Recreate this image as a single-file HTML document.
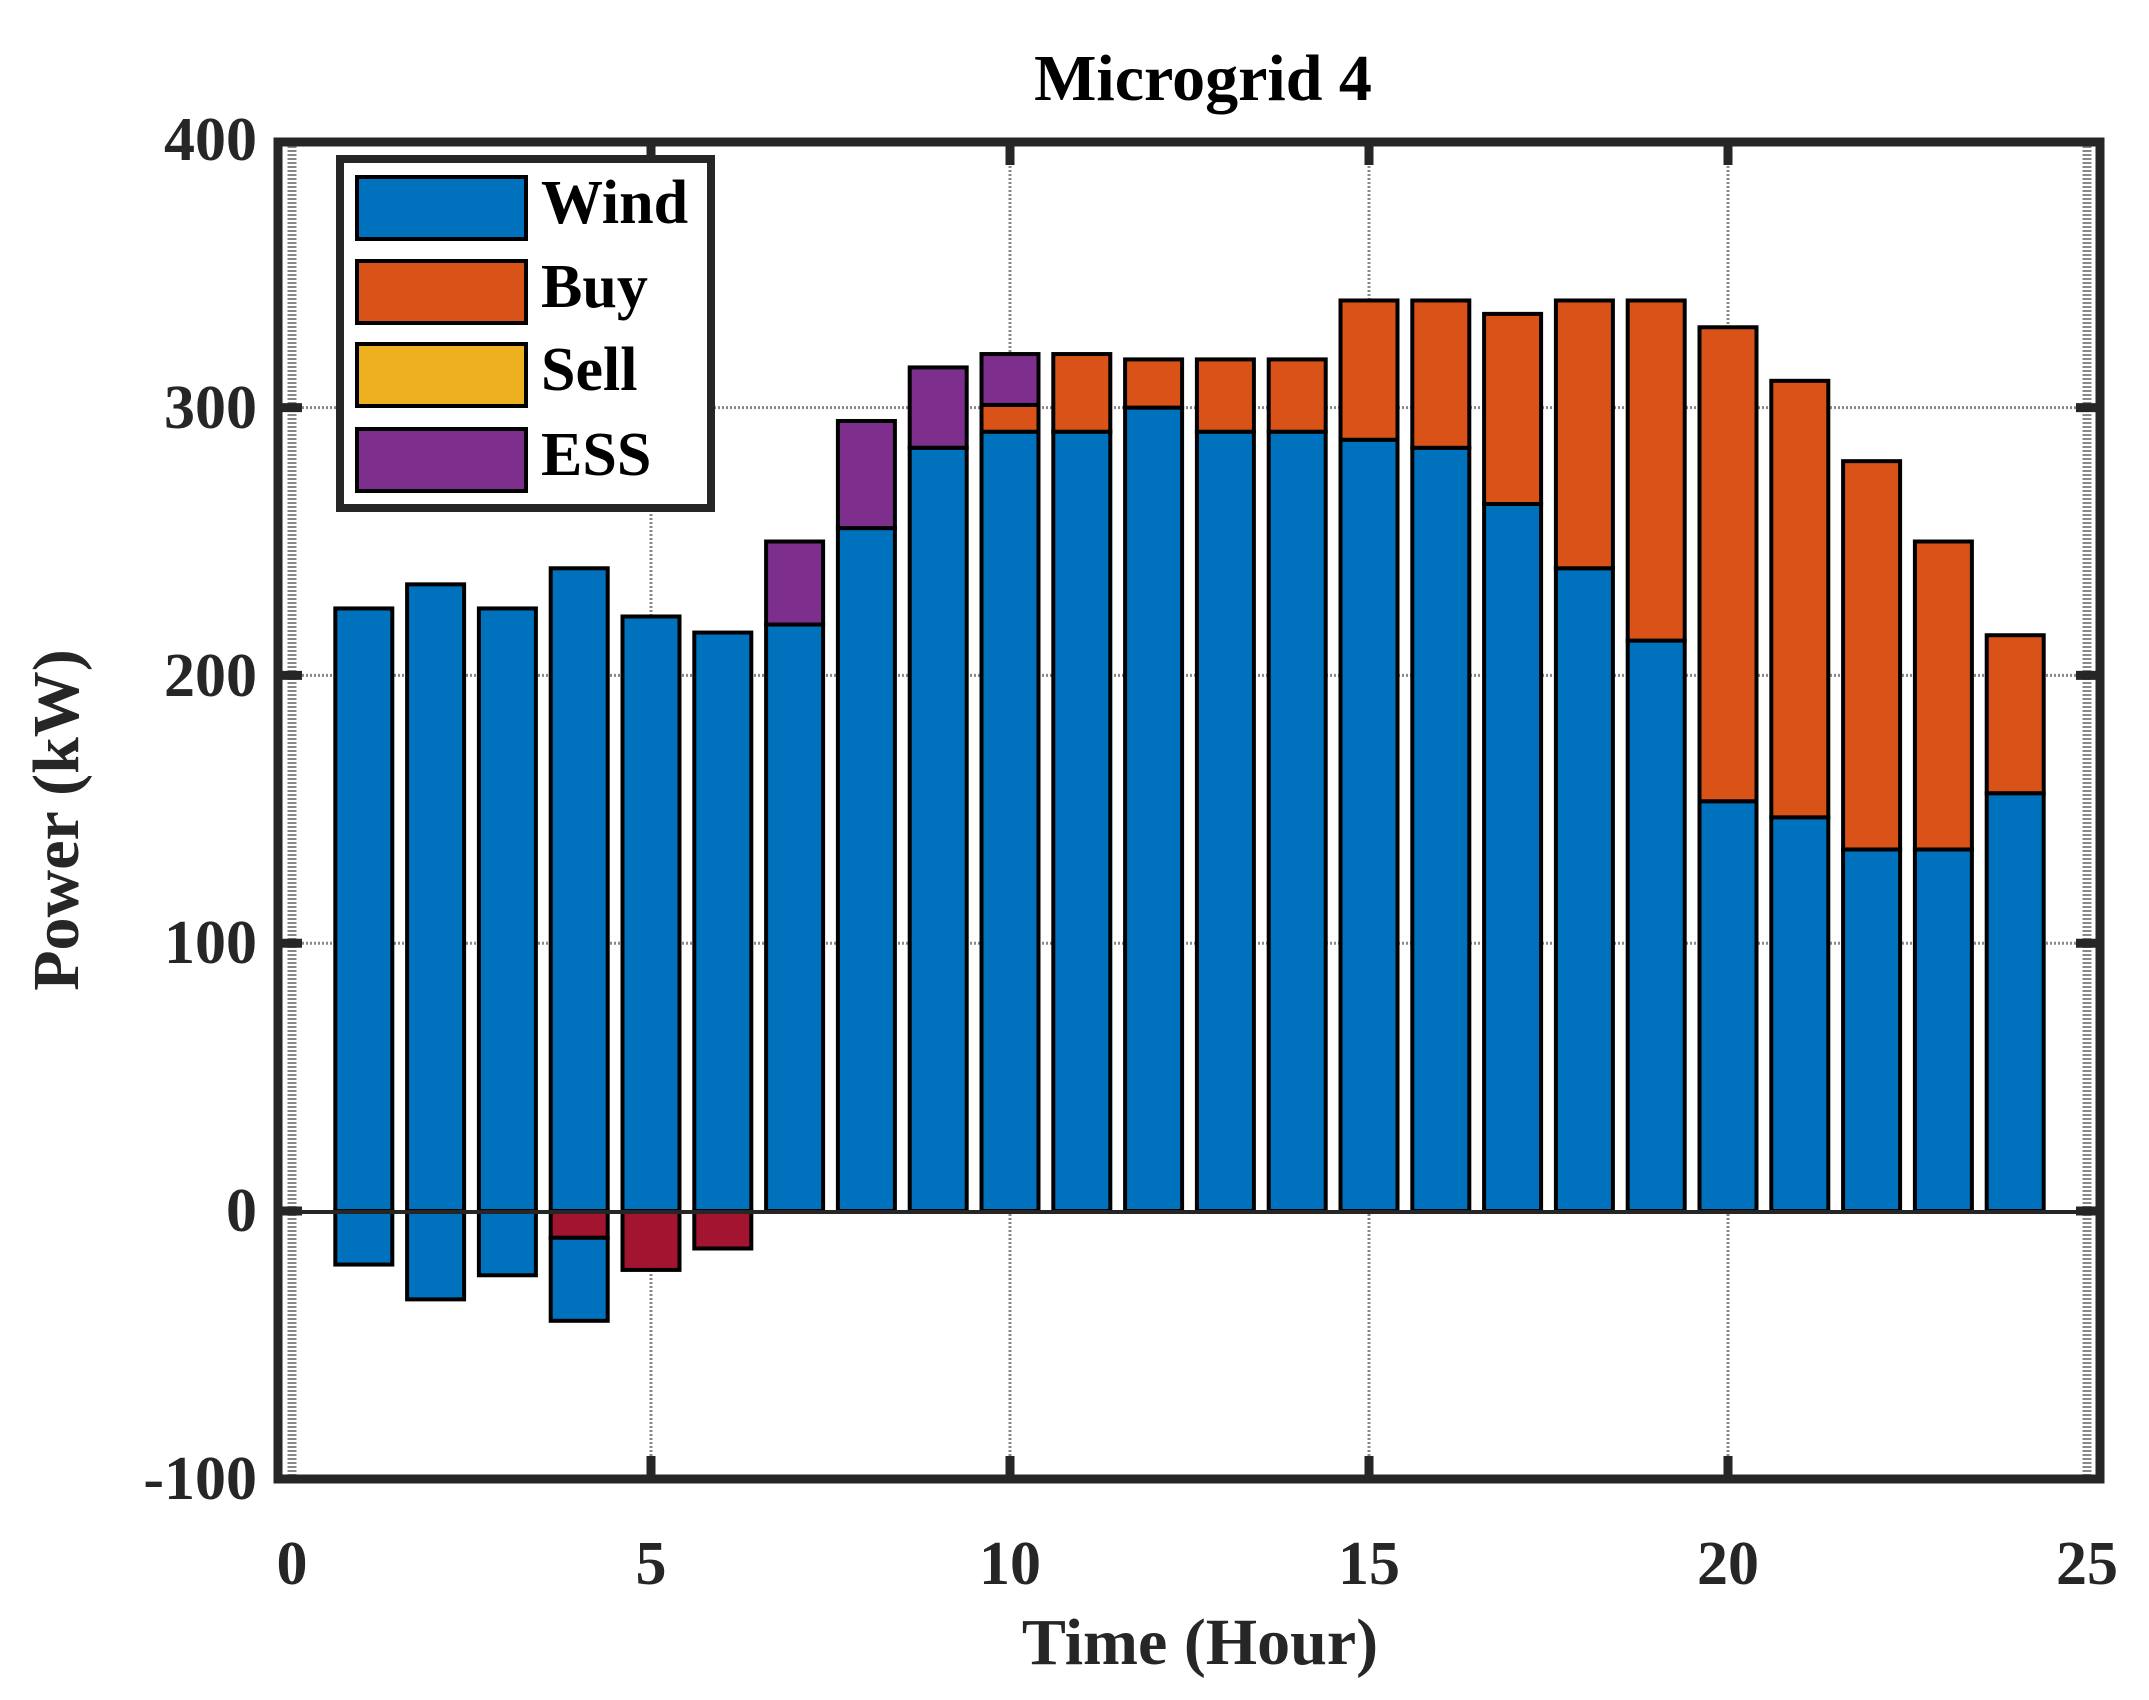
<!DOCTYPE html>
<html><head><meta charset="utf-8"><style>
html,body{margin:0;padding:0;background:#fff;}
svg{display:block;}
text{font-family:"Liberation Serif",serif;font-weight:bold;fill:#262626;}
</style></head><body>
<svg id="s" width="2149" height="1700" viewBox="0 0 2149 1700" xmlns="http://www.w3.org/2000/svg">
<rect width="2149" height="1700" fill="#fff"/>
<g id="grid"></g>
<g id="bars"></g>
<line x1="282" y1="1212" x2="2100" y2="1212" stroke="#262626" stroke-width="4"/>
<rect x="278" y="142" width="1822" height="1337" fill="none" stroke="#262626" stroke-width="9"/>
<g id="ticks"></g>
<rect x="340" y="159" width="371" height="349" fill="#fff" stroke="#262626" stroke-width="8"/>
<rect x="357" y="177" width="169" height="62" fill="#0072BD" stroke="#000" stroke-width="4"/>
<rect x="357" y="261" width="169" height="62" fill="#D95319" stroke="#000" stroke-width="4"/>
<rect x="357" y="344" width="169" height="62" fill="#EDB120" stroke="#000" stroke-width="4"/>
<rect x="357" y="429" width="169" height="62" fill="#7E2F8E" stroke="#000" stroke-width="4"/>
<text x="541" y="223" font-size="62" style="fill:#000">Wind</text>
<text x="541" y="307" font-size="62" style="fill:#000">Buy</text>
<text x="541" y="390" font-size="62" style="fill:#000">Sell</text>
<text x="541" y="475" font-size="62" style="fill:#000">ESS</text>
<text x="1203" y="100" font-size="66" text-anchor="middle" style="fill:#000">Microgrid 4</text>
<g font-size="62" text-anchor="end">
<text x="257" y="160">400</text>
<text x="257" y="428">300</text>
<text x="257" y="696">200</text>
<text x="257" y="963">100</text>
<text x="257" y="1231">0</text>
<text x="257" y="1499">-100</text>
</g>
<g font-size="62" text-anchor="middle">
<text x="292" y="1584">0</text>
<text x="651" y="1584">5</text>
<text x="1010" y="1584">10</text>
<text x="1369" y="1584">15</text>
<text x="1728" y="1584">20</text>
<text x="2087" y="1584">25</text>
</g>
<text x="1200" y="1664" font-size="66" text-anchor="middle">Time (Hour)</text>
<text transform="translate(78,820) rotate(-90)" font-size="66" text-anchor="middle">Power (kW)</text>
</svg>
<script>
var NS="http://www.w3.org/2000/svg";
function el(p,t,a){var e=document.createElementNS(NS,t);for(var k in a)e.setAttribute(k,a[k]);document.getElementById(p).appendChild(e);}
function X(h){return 292+71.8*h;}
function Y(v){return 1211-2.678*v;}
[0,5,10,15,20,25].forEach(function(h){el("grid","line",{x1:X(h),y1:146,x2:X(h),y2:1475,stroke:"#888",
 "stroke-width":(h==0||h==25)?9:3,"stroke-dasharray":"2 2"});});
[100,200,300].forEach(function(v){el("grid","line",{x1:282,y1:Y(v),x2:2096,y2:Y(v),stroke:"#888","stroke-width":3,"stroke-dasharray":"2 2"});});
[5,10,15,20].forEach(function(h){el("ticks","line",{x1:X(h),y1:146,x2:X(h),y2:165,stroke:"#262626","stroke-width":9});
 el("ticks","line",{x1:X(h),y1:1475,x2:X(h),y2:1456,stroke:"#262626","stroke-width":9});});
[0,100,200,300].forEach(function(v){el("ticks","line",{x1:282,y1:Y(v),x2:302,y2:Y(v),stroke:"#262626","stroke-width":9});
 el("ticks","line",{x1:2096,y1:Y(v),x2:2076,y2:Y(v),stroke:"#262626","stroke-width":9});});
var W=[225,234,225,240,222,216,219,255,285,291,291,300,291,291,288,285,264,240,213,153,147,135,135,156];
var B=[0,0,0,0,0,0,0,0,0,10,29,18,27,27,52,55,71,100,127,177,163,145,115,59];
var E=[0,0,0,0,0,0,31,40,30,19,0,0,0,0,0,0,0,0,0,0,0,0,0,0];
var NW=[-20,-33,-24,-31,0,0];
var NR=[0,0,0,-10,-22,-14];
function bar(h,a,b,c){var y1=Y(Math.max(a,b)),y2=Y(Math.min(a,b));
 el("bars","rect",{x:X(h)-28.5,y:y1,width:57,height:y2-y1,fill:c,stroke:"#000","stroke-width":4});}
for(var i=0;i<24;i++){var h=i+1;
 bar(h,0,W[i],"#0072BD");
 var t=W[i];
 if(B[i]){bar(h,t,t+B[i],"#D95319");t+=B[i];}
 if(E[i]){bar(h,t,t+E[i],"#7E2F8E");}
 if(i<6){var n=0;
  if(NR[i]){bar(h,0,NR[i],"#A2142F");n=NR[i];}
  if(NW[i]){bar(h,n,n+NW[i],"#0072BD");}
 }
}
</script>
</body></html>
